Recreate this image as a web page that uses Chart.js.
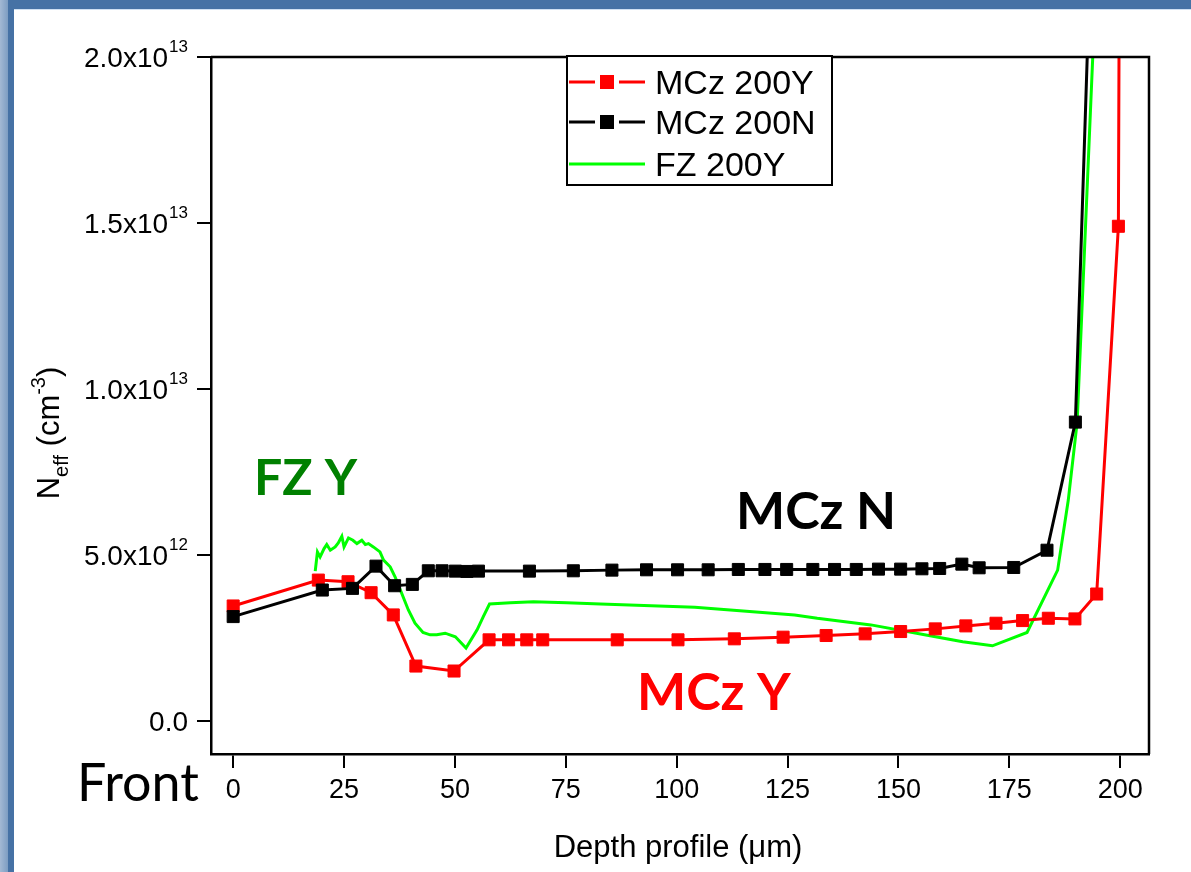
<!DOCTYPE html>
<html>
<head>
<meta charset="utf-8">
<script src="https://cdn.jsdelivr.net/npm/chart.js@4.4.1/dist/chart.umd.min.js"></script>
<style>
html, body { margin: 0; padding: 0; background: #fff; }
#wrap { position: relative; width: 1191px; height: 872px; overflow: hidden; background: #fff; }
#edgeL { position: absolute; left: 0; top: 0; width: 8px; height: 872px; background: linear-gradient(to right, #a3b9d4, #7d9dc2); }
#barL { position: absolute; left: 8px; top: 0; width: 6px; height: 872px; background: #4672a5; }
#barT { position: absolute; left: 8px; top: 0; width: 1183px; height: 9px; background: #4672a5; border-bottom: 1px solid #cfe0f2; }
#chart { position: absolute; left: 0; top: 0; }
</style>
</head>
<body>
<div id="wrap">
  <div id="edgeL"></div>
  <div id="barT"></div>
  <div id="barL"></div>
  <canvas id="chart" width="1191" height="872"></canvas>
</div>
<script>
// Neff depth profiles, y values in units of 1e12 cm^-3
const E12 = 1e12;

// MCz 200Y
const redX = [0, 19.2, 25.9, 31.1, 36.1, 41.2, 49.8, 57.7, 62.1, 66.2, 69.8, 86.6, 100.3, 113.0, 124.0, 133.7,
  142.5, 150.5, 158.3, 165.2, 172.0, 178.0, 183.8, 189.8, 194.7, 199.6, 200.0];
const redY = [3.46, 4.24, 4.19, 3.86, 3.19, 1.65, 1.50, 2.44, 2.44, 2.44, 2.44, 2.44, 2.44, 2.47, 2.52, 2.57,
  2.62, 2.69, 2.77, 2.86, 2.94, 3.02, 3.09, 3.07, 3.82, 14.9, 30.0];

// MCz 200N
const blackX = [0, 20.1, 26.9, 32.2, 36.4, 40.4, 44.0, 47.1, 50.1, 52.7, 55.3, 66.8, 76.7, 85.4, 93.2, 100.2,
  107.1, 113.9, 119.9, 124.8, 130.7, 135.6, 140.5, 145.5, 150.5, 155.3, 159.3, 164.3, 168.2, 176.0, 183.5, 189.9, 195.0];
const blackY = [3.14, 3.94, 3.99, 4.66, 4.07, 4.11, 4.52, 4.52, 4.51, 4.50, 4.51, 4.51, 4.52, 4.54, 4.55, 4.55,
  4.55, 4.56, 4.56, 4.56, 4.56, 4.56, 4.56, 4.57, 4.57, 4.58, 4.59, 4.72, 4.61, 4.62, 5.14, 9.0, 30.0];

// FZ 200Y
const greenX = [18.5, 19.0, 19.6, 20.5, 21.1, 21.9, 23.0, 23.7, 24.5, 25.0, 26.0, 27.0, 27.9, 29.0, 29.8, 30.5,
  31.6, 33.1, 33.9, 35.4, 36.5, 37.7, 39.5, 41.0, 42.8, 44.4, 45.9, 47.8, 50.1, 52.5, 55.0, 56.4, 57.8, 62.5,
  67.7, 75.2, 82.8, 104.1, 126.6, 131.7, 143.8, 155.9, 164.5, 171.2, 179.0, 185.9, 188.3, 190.3, 194.2];
const greenY = [4.51, 5.09, 4.94, 5.19, 5.31, 5.14, 5.24, 5.36, 5.56, 5.24, 5.51, 5.44, 5.34, 5.44, 5.31, 5.34,
  5.24, 5.09, 4.84, 4.64, 4.34, 3.94, 3.34, 2.94, 2.66, 2.59, 2.59, 2.64, 2.53, 2.19, 2.74, 3.14, 3.52, 3.56,
  3.59, 3.56, 3.52, 3.42, 3.19, 3.09, 2.89, 2.59, 2.38, 2.26, 2.66, 4.54, 6.65, 9.0, 21.2];

const seriesNames = ['MCz 200Y', 'MCz 200N', 'FZ 200Y'];
const seriesColors = ['#ff0000', '#000000', '#00ff00'];

const xTickValues = [0, 25, 50, 75, 100, 125, 150, 175, 200];
const yTickValues = [0, 5e12, 1e13, 1.5e13, 2e13];
const yTickText = ['0.0', '5.0x10', '1.0x10', '1.5x10', '2.0x10'];
const yTickExp = ['', '12', '13', '13', '13'];

function pts(xs, ys) {
  return xs.map((x, i) => ({ x: x, y: ys[i] * E12 }));
}

const helv = '"Liberation Sans", Arial, Helvetica, sans-serif';
const calib = 'Lato, "Open Sans", sans-serif';

// axis labels, tick labels, legend, notes
const extras = {
  id: 'extras',
  afterDraw(chart) {
    const ctx = chart.ctx;
    const a = chart.chartArea;
    const xs = chart.scales.x, ys = chart.scales.y;
    ctx.save();

    // box top + right side
    ctx.strokeStyle = '#000';
    ctx.lineWidth = 2.5;
    ctx.beginPath();
    ctx.moveTo(a.left, a.top);
    ctx.lineTo(a.right, a.top);
    ctx.lineTo(a.right, a.bottom);
    ctx.stroke();

    ctx.fillStyle = '#000';
    ctx.textBaseline = 'alphabetic';

    // y tick labels with exponent
    yTickValues.forEach((v, i) => {
      const py = ys.getPixelForValue(v);
      ctx.font = '17px ' + helv;
      const ew = yTickExp[i] ? ctx.measureText(yTickExp[i]).width + 1 : 0;
      ctx.font = '28px ' + helv;
      const mw = ctx.measureText(yTickText[i]).width;
      const right = 188;
      ctx.textAlign = 'left';
      ctx.fillText(yTickText[i], right - ew - mw, py + 10);
      if (yTickExp[i]) {
        ctx.font = '17px ' + helv;
        ctx.fillText(yTickExp[i], right - ew + 1, py - 5);
      }
    });

    // x tick labels
    ctx.font = '27px ' + helv;
    ctx.textAlign = 'center';
    xTickValues.forEach(v => {
      ctx.fillText(String(v), xs.getPixelForValue(v), 798);
    });

    // x title
    ctx.font = '31px ' + helv;
    ctx.fillText('Depth profile (\u03bcm)', 678, 857);

    // y title, rotated
    ctx.save();
    ctx.translate(59, 433);
    ctx.rotate(-Math.PI / 2);
    const parts = [
      ['N', '31px', 0], ['eff', '20px', 9], [' (cm', '31px', 0], ['-3', '20px', -14], [')', '31px', 0]
    ];
    let total = 0;
    parts.forEach(p => { ctx.font = p[1] + ' ' + helv; total += ctx.measureText(p[0]).width; });
    let cx = -total / 2;
    ctx.textAlign = 'left';
    parts.forEach(p => {
      ctx.font = p[1] + ' ' + helv;
      ctx.fillText(p[0], cx, p[2]);
      cx += ctx.measureText(p[0]).width;
    });
    ctx.restore();

    // legend
    const lx = 567, ly = 56, lw = 265, lh = 129;
    ctx.fillStyle = '#fff';
    ctx.fillRect(lx, ly, lw, lh);
    ctx.strokeStyle = '#000';
    ctx.lineWidth = 2;
    ctx.strokeRect(lx, ly, lw, lh);
    const rows = [82, 122, 164];
    seriesNames.forEach((name, i) => {
      const ry = rows[i];
      ctx.strokeStyle = seriesColors[i];
      ctx.lineWidth = 3;
      ctx.beginPath();
      if (i < 2) {
        ctx.moveTo(569, ry); ctx.lineTo(595, ry);
        ctx.moveTo(619, ry); ctx.lineTo(645, ry);
        ctx.stroke();
        ctx.fillStyle = seriesColors[i];
        ctx.fillRect(600, ry - 7, 14, 14);
      } else {
        ctx.moveTo(569, ry); ctx.lineTo(645, ry);
        ctx.stroke();
      }
      ctx.fillStyle = '#000';
      ctx.font = '34px ' + helv;
      ctx.textAlign = 'left';
      ctx.fillText(name, 655, ry + 12);
    });

    // notes on the plot
    ctx.textAlign = 'left';
    ctx.font = 'bold 50px ' + calib;
    ctx.fillStyle = '#008000';
    ctx.fillText('FZ Y', 254, 495);
    ctx.font = 'bold 52px ' + calib;
    ctx.fillStyle = '#000';
    ctx.fillText('MCz N', 736, 529);
    ctx.font = 'bold 52px ' + calib;
    ctx.fillStyle = '#ff0000';
    ctx.fillText('MCz Y', 637, 710);
    ctx.font = '52px ' + calib;
    ctx.fillStyle = '#000';
    ctx.fillText('Front', 77, 801);

    ctx.restore();
  }
};

const axisGrid = { display: true, drawOnChartArea: false, drawTicks: true, tickLength: 14, color: '#000', lineWidth: 2 };
const axisBorder = { display: true, color: '#000', width: 2.5 };

new Chart(document.getElementById('chart'), {
  type: 'line',
  data: {
    datasets: [
      {
        label: seriesNames[0], data: pts(redX, redY), order: 2,
        borderColor: seriesColors[0], backgroundColor: seriesColors[0], borderWidth: 3,
        pointStyle: 'rect', pointRadius: 8.5, pointBorderWidth: 1, pointBorderColor: seriesColors[0]
      },
      {
        label: seriesNames[1], data: pts(blackX, blackY), order: 1,
        borderColor: seriesColors[1], backgroundColor: seriesColors[1], borderWidth: 3,
        pointStyle: 'rect', pointRadius: 8.5, pointBorderWidth: 1, pointBorderColor: seriesColors[1]
      },
      {
        label: seriesNames[2], data: pts(greenX, greenY), order: 3,
        borderColor: seriesColors[2], borderWidth: 3, pointRadius: 0
      }
    ]
  },
  options: {
    responsive: false,
    animation: false,
    devicePixelRatio: 1,
    layout: { padding: { top: 57, right: 42, bottom: 0, left: 0 } },
    elements: { line: { tension: 0, fill: false } },
    plugins: { legend: { display: false }, tooltip: { enabled: false } },
    scales: {
      x: {
        type: 'linear', min: -5, max: 206.5,
        afterBuildTicks: s => { s.ticks = xTickValues.map(v => ({ value: v })); },
        afterFit: s => { s.height = 118; },
        ticks: { display: false },
        grid: axisGrid, border: axisBorder
      },
      y: {
        type: 'linear', min: -1e12, max: 2e13,
        afterBuildTicks: s => { s.ticks = yTickValues.map(v => ({ value: v })); },
        afterFit: s => { s.width = 211; },
        ticks: { display: false },
        grid: axisGrid, border: axisBorder
      }
    }
  },
  plugins: [extras]
});
</script>
</body>
</html>
